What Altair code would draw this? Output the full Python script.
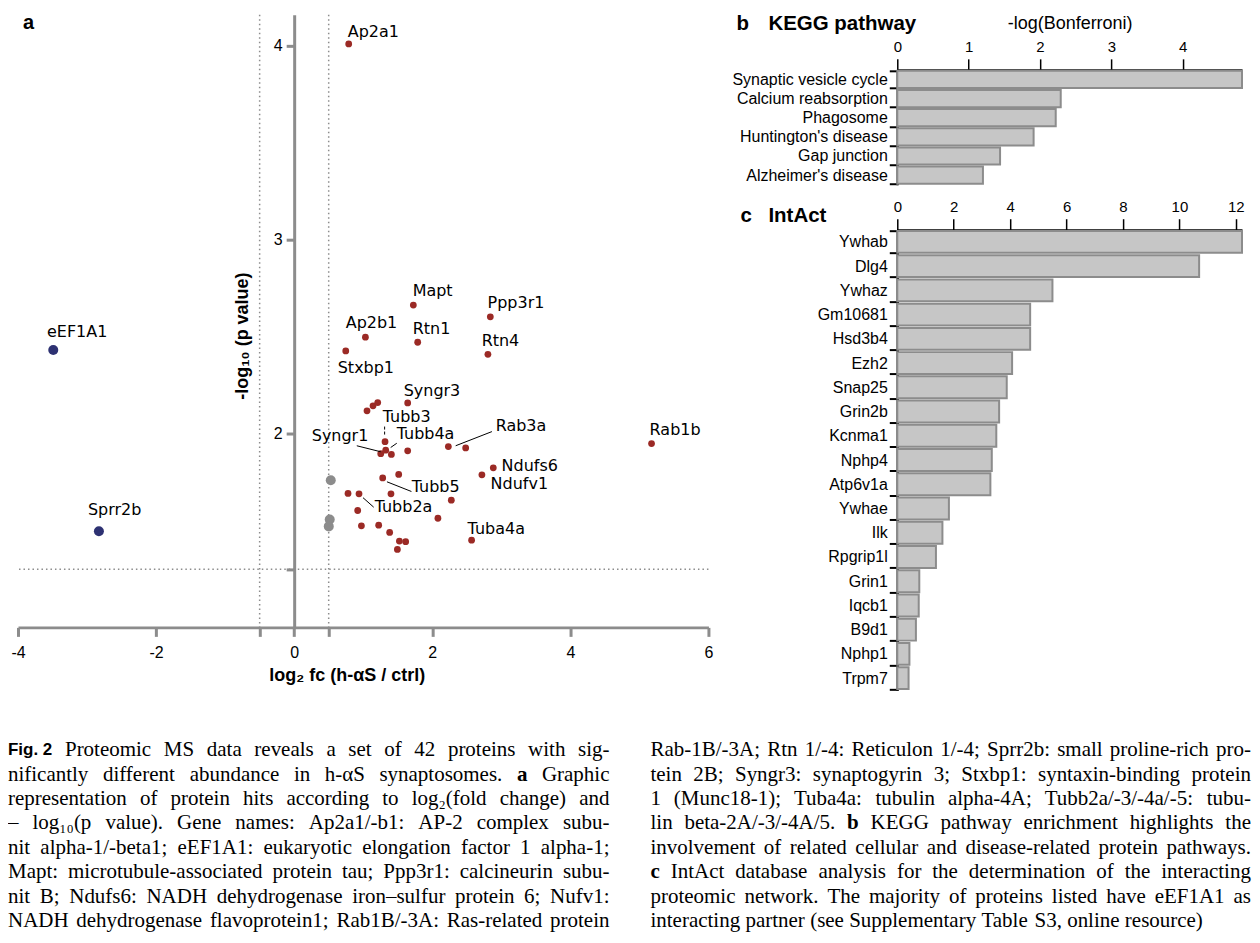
import altair as alt
import pandas as pd

# ---------------- panel a : volcano plot ----------------
red_x = [0.790, 1.726, 2.841, 1.032, 1.789, 2.806, 0.747, 1.644,
         1.055, 1.142, 1.210,
         1.316, 1.254, 1.326, 1.408,
         1.644, 2.233, 2.484, 2.884, 2.719, 1.282, 1.514,
         0.780, 0.939, 1.402, 2.276, 0.920, 2.082, 0.974, 1.224,
         1.383, 2.570, 1.524, 1.615, 1.495, 5.176]
red_y = [4.010, 2.663, 2.602, 2.497, 2.471, 2.409, 2.426, 2.158,
         2.117, 2.143, 2.160,
         1.958, 1.896, 1.914, 1.892,
         1.911, 1.933, 1.926, 1.823, 1.787, 1.771, 1.789,
         1.691, 1.689, 1.689, 1.656, 1.603, 1.563, 1.524, 1.527,
         1.490, 1.450, 1.445, 1.442, 1.402, 1.948]
navy_x = [-3.489, -2.828]
navy_y = [2.431, 1.496]
gray_x = [0.530, 0.515, 0.501]
gray_y = [1.759, 1.557, 1.521]

thr_x = [-0.5, 0.5]
thr_y = [1.3]

lab_names = ["Ap2a1", "Mapt", "Ppp3r1", "Ap2b1", "Rtn1", "Rtn4", "Stxbp1", "Syngr3",
             "Tubb3", "Syngr1", "Tubb4a", "Rab3a", "Rab1b", "Ndufs6", "Ndufv1",
             "Tubb5", "Tubb2a", "Tuba4a", "eEF1A1", "Sprr2b"]
lab_x = [0.776, 1.716, 2.801, 0.747, 1.716, 2.715, 0.631, 1.586,
         1.282, 0.255, 1.485, 2.918, 5.148, 3.004, 2.845,
         1.702, 1.166, 2.512, -3.580, -2.987]
lab_y = [4.072, 2.735, 2.675, 2.572, 2.541, 2.479, 2.340, 2.222,
         2.087, 1.985, 2.000, 2.041, 2.018, 1.835, 1.742,
         1.722, 1.619, 1.505, 2.526, 1.608]

# leader lines (Syngr1, Tubb4a, Rab3a, Tubb5, Tubb2a)
lead_x1 = [0.907, 1.486, 2.339, 1.344, 0.997]
lead_y1 = [1.937, 1.950, 1.937, 1.751, 1.669]
lead_x2 = [1.253, 1.398, 2.864, 1.698, 1.152]
lead_y2 = [1.906, 1.928, 2.010, 1.701, 1.620]
# dashed leader (Tubb3)
dash_x1 = [1.310]
dash_y1 = [2.036]
dash_x2 = [1.310]
dash_y2 = [1.985]

x_ticks = [-4, -2, -0.5, 0, 0.5, 2, 4, 6]
y_ticks = [1.3, 2, 3, 4]

# ---------------- panel b : KEGG ----------------
kegg_terms = ["Synaptic vesicle cycle", "Calcium reabsorption", "Phagosome",
              "Huntington's disease", "Gap junction", "Alzheimer's disease"]
kegg_vals = [4.83, 2.29, 2.22, 1.91, 1.44, 1.20]
kegg_ticks = [0, 1, 2, 3, 4]

# ---------------- panel c : IntAct ----------------
intact_genes = ["Ywhab", "Dlg4", "Ywhaz", "Gm10681", "Hsd3b4", "Ezh2", "Snap25",
                "Grin2b", "Kcnma1", "Nphp4", "Atp6v1a", "Ywhae", "Ilk", "Rpgrip1l",
                "Grin1", "Iqcb1", "B9d1", "Nphp1", "Trpm7"]
intact_vals = [12.22, 10.70, 5.50, 4.71, 4.71, 4.07, 3.88, 3.61, 3.51, 3.35, 3.30,
               1.83, 1.60, 1.37, 0.78, 0.76, 0.66, 0.43, 0.40]
intact_ticks = [0, 2, 4, 6, 8, 10, 12]

# ---------------- caption ----------------
left_lines = [
    "§Fig._2 Proteomic MS data reveals a set of 42 proteins with sig-",
    "nificantly different abundance in h-αS synaptosomes. *a* Graphic",
    "representation of protein hits according to log₂(fold change) and",
    "– log₁₀(p value). Gene names: Ap2a1/-b1: AP-2 complex subu-",
    "nit alpha-1/-beta1; eEF1A1: eukaryotic elongation factor 1 alpha-1;",
    "Mapt: microtubule-associated protein tau; Ppp3r1: calcineurin subu-",
    "nit B; Ndufs6: NADH dehydrogenase iron–sulfur protein 6; Nufv1:",
    "NADH dehydrogenase flavoprotein1; Rab1B/-3A: Ras-related protein",
]
right_lines = [
    "Rab-1B/-3A; Rtn 1/-4: Reticulon 1/-4; Sprr2b: small proline-rich pro-",
    "tein 2B; Syngr3: synaptogyrin 3; Stxbp1: syntaxin-binding protein",
    "1 (Munc18-1); Tuba4a: tubulin alpha-4A; Tubb2a/-3/-4a/-5: tubu-",
    "lin beta-2A/-3/-4A/5. *b* KEGG pathway enrichment highlights the",
    "involvement of related cellular and disease-related protein pathways.",
    "*c* IntAct database analysis for the determination of the interacting",
    "proteomic network. The majority of proteins listed have eEF1A1 as",
    "interacting partner (see Supplementary Table S3, online resource)",
]

# ---------- text width tables (per 1000 em) used to justify caption ----------
TNR = {" ": 250, "!": 333, "(": 333, ")": 333, ",": 250, "-": 333, ".": 250, "/": 278,
       ":": 278, ";": 278, "–": 500, "α": 520, "₂": 350, "₁": 350, "₀": 350, "'": 333}
for d in "0123456789":
    TNR[d] = 500
TNR.update(dict(zip("ABCDEFGHIJKLMNOPQRSTUVWXYZ",
                    [722, 667, 667, 722, 611, 556, 722, 722, 333, 389, 722, 611, 889,
                     722, 722, 556, 722, 667, 556, 611, 722, 722, 944, 722, 722, 611])))
TNR.update(dict(zip("abcdefghijklmnopqrstuvwxyz",
                    [444, 500, 444, 500, 444, 333, 500, 500, 278, 278, 500, 278, 778,
                     500, 500, 500, 500, 333, 389, 278, 500, 500, 722, 500, 500, 444])))
TNRB = {"a": 500, "b": 556, "c": 444}
ARB = {"F": 611, "i": 278, "g": 611, ".": 278, " ": 278, "2": 556}

CAP_SIZE = 21
SANS_SIZE = 17


def tok_width(t, sty):
    if sty == "s":
        return sum(ARB.get(c, 556) for c in t) * SANS_SIZE / 1000
    if sty == "b":
        return sum(TNRB.get(c, 500) for c in t) * CAP_SIZE / 1000
    return sum(TNR.get(c, 500) for c in t) * CAP_SIZE / 1000


def layout(lines, x0, colw, last_idx):
    rows = []
    for r, line in enumerate(lines):
        toks = []
        for raw in line.split(" "):
            if raw.startswith("§"):
                toks.append((raw[1:].replace("_", " "), "s"))
            elif raw.startswith("*") and raw.endswith("*") and len(raw) > 2:
                toks.append((raw[1:-1], "b"))
            else:
                toks.append((raw, "r"))
        ws = [tok_width(t, s) for t, s in toks]
        if r == last_idx:
            gap = 0.25 * CAP_SIZE
        else:
            gap = max((colw - sum(ws)) / (len(toks) - 1), 0.15 * CAP_SIZE)
        x = x0
        for (t, s), w in zip(toks, ws):
            rows.append({"px": x, "row": r, "tok": t, "sty": s})
            x += w + gap
    return rows


cap_rows = layout(left_lines, 0, 602, -1) + layout(right_lines, 643, 601, 7)
cap_df = pd.DataFrame(cap_rows)

# ---------------- styling constants ----------------
GRAY = "#8c8c8c"
RED = "#9b2a25"
NAVY = "#2d3172"
SANS = "Liberation Sans"

# ---------------- build panel a ----------------
xs = alt.Scale(domain=[-4, 6], nice=False, zero=False)
ys = alt.Scale(domain=[1, 4.16], nice=False, zero=False)

xaxis = alt.Axis(values=x_ticks, labelExpr="abs(datum.value) == 0.5 ? '' : '' + datum.value",
                 grid=False, domainColor=GRAY, domainWidth=3, tickColor=GRAY, tickWidth=3,
                 tickSize=9, labelFont=SANS, labelFontSize=16, labelColor="black",
                 labelPadding=8, labelFlush=False, labelOverlap=False,
                 title="log₂ fc (h-αS / ctrl)", titleFont=SANS, titleFontSize=18,
                 titleFontWeight="bold", titleColor="black", titleX=329, titleY=48,
                 titleBaseline="middle", titleAlign="center")
yaxis = alt.Axis(values=y_ticks, labelExpr="datum.value == 1.3 ? '' : '' + datum.value",
                 offset=-276.4, grid=False, domainColor=GRAY, domainWidth=3, tickColor=GRAY,
                 tickWidth=3, tickSize=8, labelFont=SANS, labelFontSize=16, labelColor="black",
                 labelPadding=4, labelFlush=False, labelOverlap=False,
                 title="-log₁₀ (p value)", titleFont=SANS, titleFontSize=18,
                 titleFontWeight="bold", titleColor="black", titleX=-52, titleY=321,
                 titleAngle=-90, titleBaseline="middle", titleAlign="center")

X = alt.X("x:Q", scale=xs, axis=xaxis)
Y = alt.Y("y:Q", scale=ys, axis=yaxis)

vlines = alt.Chart(pd.DataFrame({"x": thr_x})).mark_rule(
    color=GRAY, strokeWidth=1.5, strokeDash=[1.5, 3]).encode(x=X)
hline = alt.Chart(pd.DataFrame({"y": thr_y})).mark_rule(
    color=GRAY, strokeWidth=1.5, strokeDash=[1.5, 3]).encode(y=Y)


def pts(xv, yv, color, size):
    return alt.Chart(pd.DataFrame({"x": xv, "y": yv})).mark_circle(
        color=color, opacity=1, size=size).encode(x=X, y=Y)


gray_pts = pts(gray_x, gray_y, GRAY, 100)
navy_pts = pts(navy_x, navy_y, NAVY, 100)
red_pts = pts(red_x, red_y, RED, 46)

lead = alt.Chart(pd.DataFrame({"x": lead_x1, "y": lead_y1, "x2": lead_x2, "y2": lead_y2})).mark_rule(
    color="black", strokeWidth=1).encode(x=X, y=Y, x2="x2:Q", y2="y2:Q")
lead_d = alt.Chart(pd.DataFrame({"x": dash_x1, "y": dash_y1, "x2": dash_x2, "y2": dash_y2})).mark_rule(
    color="black", strokeWidth=1, strokeDash=[3, 2]).encode(x=X, y=Y, x2="x2:Q", y2="y2:Q")

labels = alt.Chart(pd.DataFrame({"x": lab_x, "y": lab_y, "t": lab_names})).mark_text(
    align="left", baseline="middle", font="DejaVu Sans", fontSize=16, color="black").encode(
    x=X, y=Y, text="t:N")

letter_a = alt.Chart(pd.DataFrame({"t": ["a"]})).mark_text(
    align="left", baseline="alphabetic", font=SANS, fontSize=20, fontWeight="bold",
    color="black").encode(x=alt.value(5), y=alt.value(14.5), text="t:N")

volcano = alt.layer(vlines, hline, gray_pts, navy_pts, red_pts, lead, lead_d, labels,
                    letter_a).properties(width=691, height=613)


# ---------------- panels b and c ----------------
def bar_axes_x(vals, title, offset):
    kw = dict(orient="top", values=vals, grid=False, domainColor="black", domainWidth=2,
              tickColor="black", tickWidth=1.5, tickSize=11, labelFont=SANS, labelFontSize=15,
              labelColor="black", labelPadding=4, labelFlush=False, labelOverlap=False)
    if offset:
        kw["offset"] = offset
    if title:
        kw.update(title=title, titleFont=SANS, titleFontSize=18, titleFontWeight="normal",
                  titleColor="black", titlePadding=7)
    else:
        kw["title"] = None
    return alt.Axis(**kw)


bar_y_axis = alt.Axis(title=None, domainColor="black", domainWidth=2.5, tickColor="black",
                      tickWidth=2, tickSize=8, tickBand="extent", labelFont=SANS,
                      labelFontSize=16, labelColor="black", labelPadding=2)

kegg_df = pd.DataFrame({"term": kegg_terms, "val": kegg_vals})
kegg_bars = alt.Chart(kegg_df).mark_bar(fill="#c6c6c6", stroke=GRAY, strokeWidth=2).encode(
    x=alt.X("val:Q", scale=alt.Scale(domain=[0, 4.83], nice=False),
            axis=bar_axes_x(kegg_ticks, "-log(Bonferroni)", -55)),
    y=alt.Y("term:N", sort=kegg_terms,
            scale=alt.Scale(domain=kegg_terms, range=[55, 170], paddingInner=0.1, paddingOuter=0.05),
            axis=bar_y_axis))


def panel_text(t, x, y, size):
    return alt.Chart(pd.DataFrame({"t": [t]})).mark_text(
        align="left", baseline="alphabetic", font=SANS, fontSize=size, fontWeight="bold",
        color="black").encode(x=alt.value(x), y=alt.value(y), text="t:N")


kegg = alt.layer(kegg_bars, panel_text("b", -161, 15, 20.5),
                 panel_text("KEGG pathway", -129, 15, 20.5)).properties(width=345, height=170)

intact_df = pd.DataFrame({"gene": intact_genes, "val": intact_vals})
intact_bars = alt.Chart(intact_df).mark_bar(fill="#c6c6c6", stroke=GRAY, strokeWidth=2).encode(
    x=alt.X("val:Q", scale=alt.Scale(domain=[0, 12.22], nice=False),
            axis=bar_axes_x(intact_ticks, None, 0)),
    y=alt.Y("gene:N", sort=intact_genes,
            scale=alt.Scale(domain=intact_genes, paddingInner=0.1, paddingOuter=0.05),
            axis=bar_y_axis))
intact = alt.layer(intact_bars, panel_text("c", -157, -8, 20.5),
                   panel_text("IntAct", -129, -8, 20.5)).properties(width=345, height=461)

# ---------------- caption ----------------
cx = alt.Scale(domain=[0, 1244], range=[-10, 1234])
cy = alt.Scale(domain=[0, 7], range=[11, 182])


def cap_layer(sty, font, weight, size):
    return alt.Chart(cap_df).transform_filter(alt.datum.sty == sty).mark_text(
        align="left", baseline="middle", font=font, fontWeight=weight, fontSize=size,
        color="black").encode(
        x=alt.X("px:Q", scale=cx, axis=None), y=alt.Y("row:Q", scale=cy, axis=None), text="tok:N")


caption = alt.layer(cap_layer("r", "Liberation Serif", "normal", CAP_SIZE),
                    cap_layer("b", "Liberation Serif", "bold", CAP_SIZE),
                    cap_layer("s", SANS, "bold", SANS_SIZE)).properties(width=1234, height=195)

top = alt.hconcat(volcano, alt.vconcat(kegg, intact, spacing=14), spacing=18)
chart = alt.vconcat(top, caption, spacing=49).properties(
    padding={"left": 0, "top": -1.5, "right": 0, "bottom": 0}, background="white"
).configure_view(stroke=None)

chart.save("out.html", embed_options={"renderer": "svg", "actions": False})
